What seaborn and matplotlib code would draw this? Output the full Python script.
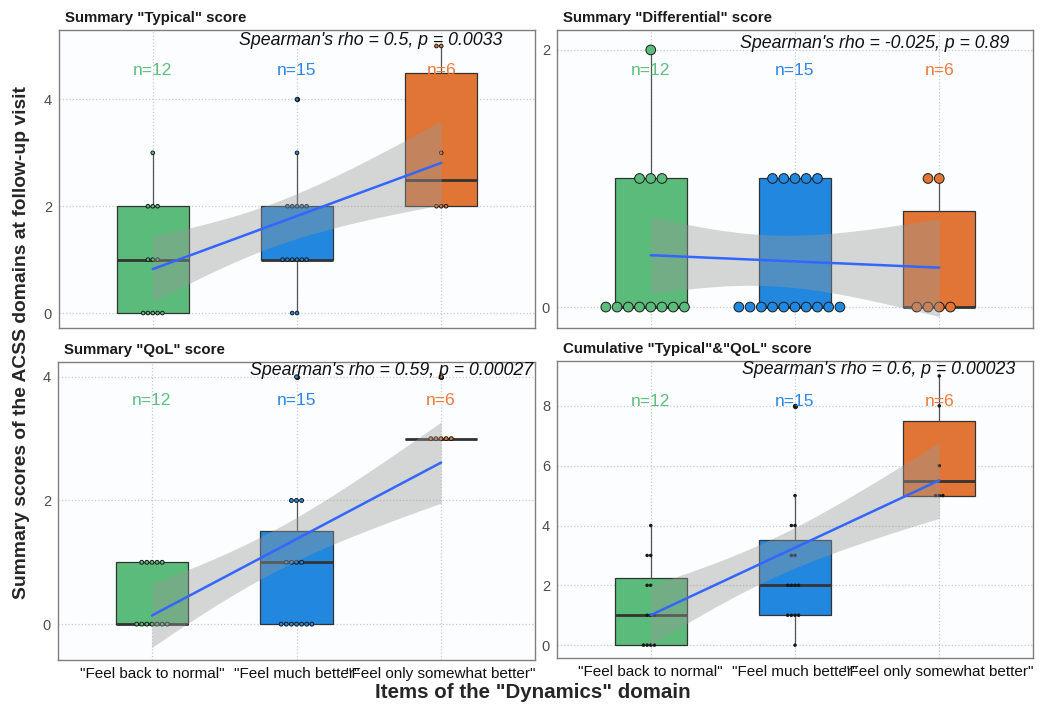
import numpy as np
import pandas as pd
import matplotlib
matplotlib.use('Agg')
import matplotlib.pyplot as plt
import seaborn as sns

sns.set_style('white')
plt.rcParams['font.family'] = ['Liberation Sans', 'DejaVu Sans']

GROUPS = ['"Feel back to normal"', '"Feel much better"', '"Feel only somewhat better"']
BOX_COLORS = ['#5BBB7B', '#2287DE', '#E07535']
N_COLORS = ['#5EBE7E', '#2E86E6', '#EB7A3C']

# scores per group
typical_normal = [0, 0, 0, 0, 0, 1, 1, 1, 2, 2, 2, 3]
typical_much = [0, 0, 1, 1, 1, 1, 1, 1, 2, 2, 2, 2, 2, 3, 4]
typical_some = [2, 2, 2, 3, 5, 5]

diff_normal = [0, 0, 0, 0, 0, 0, 0, 0, 1, 1, 1, 2]
diff_much = [0, 0, 0, 0, 0, 0, 0, 0, 0, 0, 1, 1, 1, 1, 1]
diff_some = [0, 0, 0, 0, 1, 1]

qol_normal = [0, 0, 0, 0, 0, 0, 0, 1, 1, 1, 1, 1]
qol_much = [0, 0, 0, 0, 0, 0, 0, 1, 1, 1, 1, 2, 2, 2, 4]
qol_some = [3, 3, 3, 3, 3, 4]

cum_normal = [0, 0, 0, 0, 1, 1, 1, 2, 2, 3, 3, 4]
cum_much = [0, 1, 1, 1, 1, 2, 2, 2, 2, 3, 3, 4, 4, 5, 8]
cum_some = [5, 5, 5, 6, 8, 9]

titles = ['Summary "Typical" score', 'Summary "Differential" score',
          'Summary "QoL" score', 'Cumulative "Typical"&"QoL" score']
spearman = ["Spearman's rho = 0.5, p = 0.0033", "Spearman's rho = -0.025, p = 0.89",
            "Spearman's rho = 0.59, p = 0.00027", "Spearman's rho = 0.6, p = 0.00023"]

panels = [
    # data, axes rect in px (left, top, right, bottom), ylim, yticks, dot size, dot colors, text pos
    ((typical_normal, typical_much, typical_some), (59, 30, 535, 328), (-0.28, 5.3), [0, 2, 4],
     2.6, BOX_COLORS, (1.51, 5.11), 4.55),
    ((diff_normal, diff_much, diff_some), (557, 30, 1033, 328), (-0.163, 2.155), [0, 2],
     7.0, BOX_COLORS, (1.55, 2.05), 1.84),
    ((qol_normal, qol_much, qol_some), (58, 362, 535, 660), (-0.58, 4.24), [0, 2, 4],
     2.8, BOX_COLORS, (1.66, 4.10), 3.61),
    ((cum_normal, cum_much, cum_some), (557, 361, 1033, 658), (-0.43, 9.5), [0, 2, 4, 6, 8],
     1.8, ['#111111'] * 3, (1.58, 9.23), 8.16),
]

W, H = 1053, 706
fig = plt.figure(figsize=(W / 100, H / 100), dpi=100)

try:
    from scipy.stats import t as tdist
    tq = lambda dfree: tdist.ppf(0.975, dfree)
except ImportError:
    tq = lambda dfree: 2.04

for i, (data, (l, t, r, b), ylim, yticks, dsize, dcols, spos, ny) in enumerate(panels):
    ax = fig.add_axes([l / W, 1 - b / H, (r - l) / W, (b - t) / H])
    ax.set_facecolor('#FCFDFE')
    df = pd.DataFrame({'group': np.repeat(GROUPS, [len(d) for d in data]),
                       'score': np.concatenate(data).astype(float)})

    sns.boxplot(data=df, x='group', y='score', hue='group', order=GROUPS,
                palette=BOX_COLORS, width=0.5, linecolor='#333333', linewidth=0.9,
                saturation=1, legend=False, ax=ax,
                medianprops=dict(color='#333333', linewidth=2),
                whiskerprops=dict(color='#555555'),
                capprops=dict(linewidth=0),
                flierprops=dict(marker='o', markersize=2.8, markerfacecolor='#222222',
                                markeredgecolor='#222222'))
    sns.swarmplot(data=df, x='group', y='score', hue='group', order=GROUPS,
                  palette=dcols, size=dsize, edgecolor='#1a1a1a', linewidth=0.7,
                  legend=False, ax=ax, zorder=3)

    # linear fit with 95% confidence band
    xs = df['group'].map({g: k for k, g in enumerate(GROUPS)}).to_numpy(float)
    ys = df['score'].to_numpy()
    n = len(xs)
    slope, icpt = np.polyfit(xs, ys, 1)
    resid = ys - (icpt + slope * xs)
    s = np.sqrt(np.sum(resid ** 2) / (n - 2))
    xg = np.linspace(0, 2, 80)
    yg = icpt + slope * xg
    se = s * np.sqrt(1 / n + (xg - xs.mean()) ** 2 / np.sum((xs - xs.mean()) ** 2))
    ax.fill_between(xg, yg - tq(n - 2) * se, yg + tq(n - 2) * se, color='#999999',
                    alpha=0.4, linewidth=0, zorder=4)
    ax.plot(xg, yg, color='#3366FF', linewidth=1.8, zorder=5)

    ax.set_xlim(-0.65, 2.65)
    ax.set_ylim(*ylim)
    ax.set_yticks(yticks)
    ax.set_xlabel('')
    ax.set_ylabel('')
    ax.grid(True, linestyle=':', color='#c8c8c8', linewidth=0.9)
    ax.set_axisbelow(True)
    for sp in ax.spines.values():
        sp.set_color('#7f7f7f')
        sp.set_linewidth(1)
    ax.tick_params(axis='both', length=3, color='#7f7f7f', labelsize=10.5,
                   labelcolor='#4d4d4d', pad=2)
    if i < 2:
        ax.tick_params(axis='x', labelbottom=False)
    else:
        ax.tick_params(axis='x', labelsize=11, labelcolor='#111111')

    ax.text(6 / (r - l), 1 + 12 / (b - t), titles[i], transform=ax.transAxes,
            fontsize=10.8, fontweight='bold', color='#1a1a1a', ha='left', va='center')
    ax.text(spos[0], spos[1], spearman[i], fontsize=12.8, fontstyle='italic',
            color='#111111', ha='center', va='center', zorder=6)
    for k, d in enumerate(data):
        ax.text(k, ny, f'n={len(d)}', color=N_COLORS[k], fontsize=12.6,
                ha='center', va='center', zorder=6)

fig.text(22 / W, 1 - 343 / H, 'Summary scores of the ACSS domains at follow-up visit',
         rotation=90, fontsize=13.9, fontweight='bold', ha='center', va='center')
fig.text(533 / W, 1 - 692 / H, 'Items of the "Dynamics" domain',
         fontsize=14.8, fontweight='bold', ha='center', va='center')

fig.savefig('out.png', dpi=100, facecolor='white')
